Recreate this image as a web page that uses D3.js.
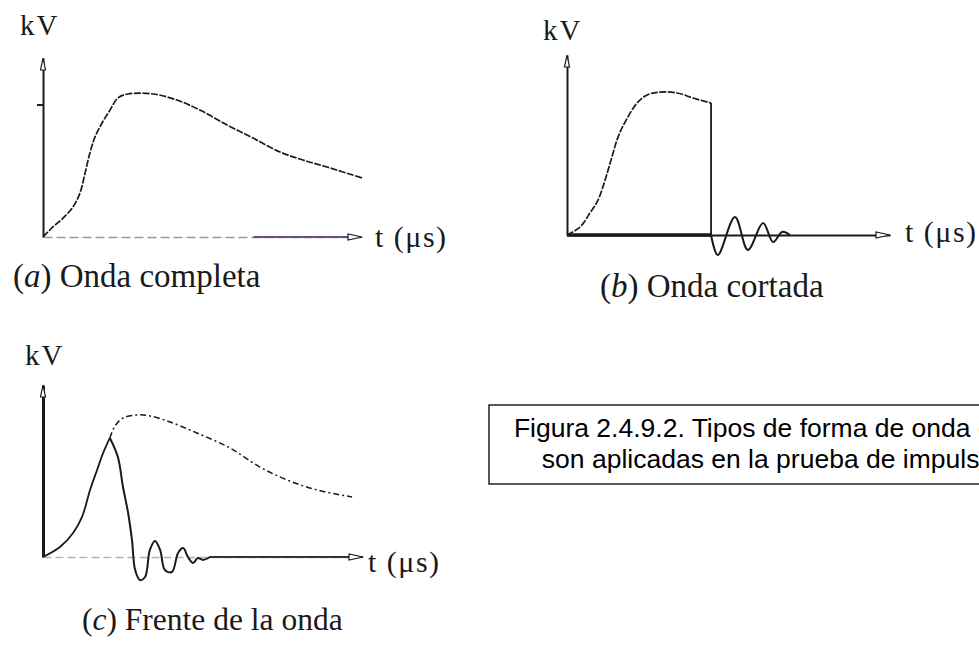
<!DOCTYPE html>
<html>
<head>
<meta charset="utf-8">
<script src="https://cdn.jsdelivr.net/npm/d3@7"></script>
<style>
  html, body { margin: 0; padding: 0; background: #fff; }
  svg { display: block; }
</style>
</head>
<body>
<svg id="fig" width="979" height="645"></svg>
<script>
// waveform samples: [t, kV] in percent of each axis
const fullWave = [[0,0],[3.1,5.6],[6.3,10.6],[9.4,16.8],[11.6,24.6],[13.2,35.8],[14.7,46.9],[16.3,55.9],[18.5,63.7],[21.0,70.9],[23.5,77.7],[26.6,79.9],[34.5,79.9],[42.0,76.5],[49.2,70.9],[57.7,62.6],[65.8,55.3],[74.3,47.5],[81.5,43.0],[89.0,39.1],[100,33.0]];
const fullWaveTick = [74];

const tailCut = 44.6;
const tailRise = [[0,0],[4.0,4.4],[7.1,12.2],[9.6,19.4],[11.8,30.6],[13.9,43.3],[15.8,54.4],[18.0,62.8],[21.7,73.3],[24.8,77.8],[28.8,79.4],[34.1,78.9],[39.0,76.1],[44.6,73.3]];
const tailRinging = [[44.6,0],[46.7,-11.1],[52.0,10.0],[56.0,-8.3],[60.7,6.7],[63.8,-3.9],[66.6,1.7],[69.0,0]];

const frontRise = [[0,0],[5.3,5.8],[9.4,14.0],[12.2,23.3],[14.7,39.0],[16.9,50.6],[18.8,60.5],[20.9,69.2]];
const frontUncut = [[20.9,69.2],[22.5,76.2],[25.0,80.8],[29.4,82.6],[33.4,82.0],[39.7,78.5],[48.1,72.1],[58.4,63.4],[67.8,52.3],[76.3,44.8],[85.6,39.0],[96.6,34.9]];
const frontChop = [[20.9,69.2],[23.4,58.1],[25.0,40.7],[26.6,25.6],[27.8,9.9],[28.8,-7.6],[30.3,-13.4],[31.9,-11.6],[33.4,4.1],[35.0,9.3],[36.6,4.1],[38.1,-7.6],[40.3,-8.7],[42.2,2.3],[43.8,5.2],[45.3,0],[46.9,-3.5],[48.4,-0.6],[50.0,-1.7],[52.2,0]];

// stretches of the time axis that print dark in the scan
const darkAxisA = [66, 97];
const darkAxisC = [52, 100];

const captions = ["Onda completa", "Onda cortada", "Frente de la onda"];
const captionLetters = ["a", "b", "c"];
const yLabel = "kV";
const xLabel = "t (\u03bcs)";
const figureText = ["Figura 2.4.9.2. Tipos de forma de onda que", "son aplicadas en la prueba de impulso"];

const svg = d3.select("#fig");
const ink = "#1a1a1a";
const serif = "'Liberation Serif', 'Times New Roman', serif";

function makePanel(x0, x1, y0, y1) {
  const x = d3.scaleLinear().domain([0, 100]).range([x0, x1]);
  const y = d3.scaleLinear().domain([0, 100]).range([y0, y1]);
  return { x, y, g: svg.append("g") };
}

function drawAxes(p, opts) {
  const yAxis = d3.axisLeft(p.y)
    .tickValues(opts.ticks || [])
    .tickSize(6)
    .tickSizeOuter(0)
    .tickFormat("");
  const ya = p.g.append("g")
    .attr("transform", `translate(${p.x(0)},0)`)
    .call(yAxis);
  ya.selectAll("path, line").attr("stroke", ink).attr("stroke-width", opts.yWidth);

  const xAxis = d3.axisBottom(p.x).tickValues([]).tickSizeOuter(0);
  const xa = p.g.append("g")
    .attr("transform", `translate(0,${p.y(0)})`)
    .call(xAxis);
  xa.select("path")
    .attr("stroke", opts.xColor || ink)
    .attr("stroke-width", opts.xWidth)
    .attr("stroke-dasharray", opts.xDash || null);

  if (opts.dark) {
    p.g.append("line")
      .attr("x1", p.x(opts.dark[0])).attr("x2", p.x(opts.dark[1]))
      .attr("y1", p.y(0)).attr("y2", p.y(0))
      .attr("stroke", opts.darkColor).attr("stroke-width", 1.8);
  }

  // open arrowheads
  const tx = p.x(100), ty = p.y(0);
  p.g.append("path")
    .attr("d", `M${tx},${ty} L${tx - 14},${ty - 3} L${tx - 14},${ty + 3} Z`)
    .attr("fill", "#fff").attr("stroke", ink).attr("stroke-width", 1.2);
  const ax = p.x(0), ay = p.y(100);
  p.g.append("path")
    .attr("d", `M${ax},${ay} L${ax - 2.5},${ay + 12} L${ax + 2.5},${ay + 12} Z`)
    .attr("fill", "#fff").attr("stroke", ink).attr("stroke-width", 1.2);
}

function drawLabels(p, kvPos, tPos, capPos, idx, capSize) {
  p.g.append("text")
    .attr("x", kvPos[0]).attr("y", kvPos[1])
    .attr("font-family", serif).attr("font-size", 29)
    .attr("letter-spacing", 2).attr("fill", ink)
    .text(yLabel);
  p.g.append("text")
    .attr("x", tPos[0]).attr("y", tPos[1])
    .attr("font-family", serif).attr("font-size", 30)
    .attr("letter-spacing", 1.5).attr("fill", ink)
    .text(xLabel);
  const cap = p.g.append("text")
    .attr("x", capPos[0]).attr("y", capPos[1])
    .attr("font-family", serif).attr("font-size", capSize)
    .attr("fill", ink);
  cap.append("tspan").text("(");
  cap.append("tspan").attr("font-style", "italic").text(captionLetters[idx]);
  cap.append("tspan").text(") " + captions[idx]);
}

function trace(p, data, curve, width, dash) {
  const line = d3.line().x((d) => p.x(d[0])).y((d) => p.y(d[1])).curve(curve);
  p.g.append("path")
    .datum(data)
    .attr("fill", "none")
    .attr("stroke", ink)
    .attr("stroke-width", width)
    .attr("stroke-linejoin", "round")
    .attr("stroke-dasharray", dash || null)
    .attr("d", line);
}

// (a) full wave
const pa = makePanel(43, 362, 237, 58);
drawAxes(pa, { yWidth: 2, xWidth: 1.4, xColor: "#9a94a6", xDash: "9,4", ticks: fullWaveTick, dark: darkAxisA, darkColor: "#6a4f86" });
trace(pa, fullWave, d3.curveCatmullRom, 1.7, "7,1.5");
drawLabels(pa, [20, 35], [375, 247], [13, 287], 0, 33);

// (b) chopped on the tail
const pb = makePanel(567, 890, 235, 55);
drawAxes(pb, { yWidth: 2, xWidth: 2 });
pb.g.append("line")
  .attr("x1", pb.x(0)).attr("x2", pb.x(tailCut))
  .attr("y1", pb.y(0)).attr("y2", pb.y(0))
  .attr("stroke", ink).attr("stroke-width", 3.5);
trace(pb, tailRise, d3.curveCatmullRom, 1.7, "7,1.5");
trace(pb, [[tailCut, tailRise[tailRise.length - 1][1]], [tailCut, 0]], d3.curveLinear, 1.8);
trace(pb, tailRinging, d3.curveCatmullRom, 2);
drawLabels(pb, [543, 40], [905, 242], [600, 297], 1, 33);

// (c) chopped on the front
const pc = makePanel(43, 363, 557, 385);
drawAxes(pc, { yWidth: 3, xWidth: 1.4, xColor: "#b4aed0", xDash: "8,4", dark: darkAxisC, darkColor: "#333" });
trace(pc, frontRise, d3.curveCatmullRom, 1.8);
trace(pc, frontUncut, d3.curveCatmullRom, 1.5, "6,3,2,3");
trace(pc, frontChop, d3.curveCatmullRom, 2);
drawLabels(pc, [25, 365], [368, 572], [82, 630], 2, 31.5);

// figure caption box (runs off the right edge, as in the scan)
const box = svg.append("g");
box.append("rect")
  .attr("x", 489).attr("y", 405)
  .attr("width", 558).attr("height", 79)
  .attr("fill", "none").attr("stroke", "#000").attr("stroke-width", 1.3);
box.selectAll("text.fig")
  .data(figureText)
  .join("text")
  .attr("class", "fig")
  .attr("x", 768)
  .attr("y", (d, i) => 437 + i * 31)
  .attr("text-anchor", "middle")
  .attr("font-family", "'Liberation Sans', Arial, sans-serif")
  .attr("font-size", 26.5)
  .attr("fill", "#000")
  .text((d) => d);
</script>
</body>
</html>
